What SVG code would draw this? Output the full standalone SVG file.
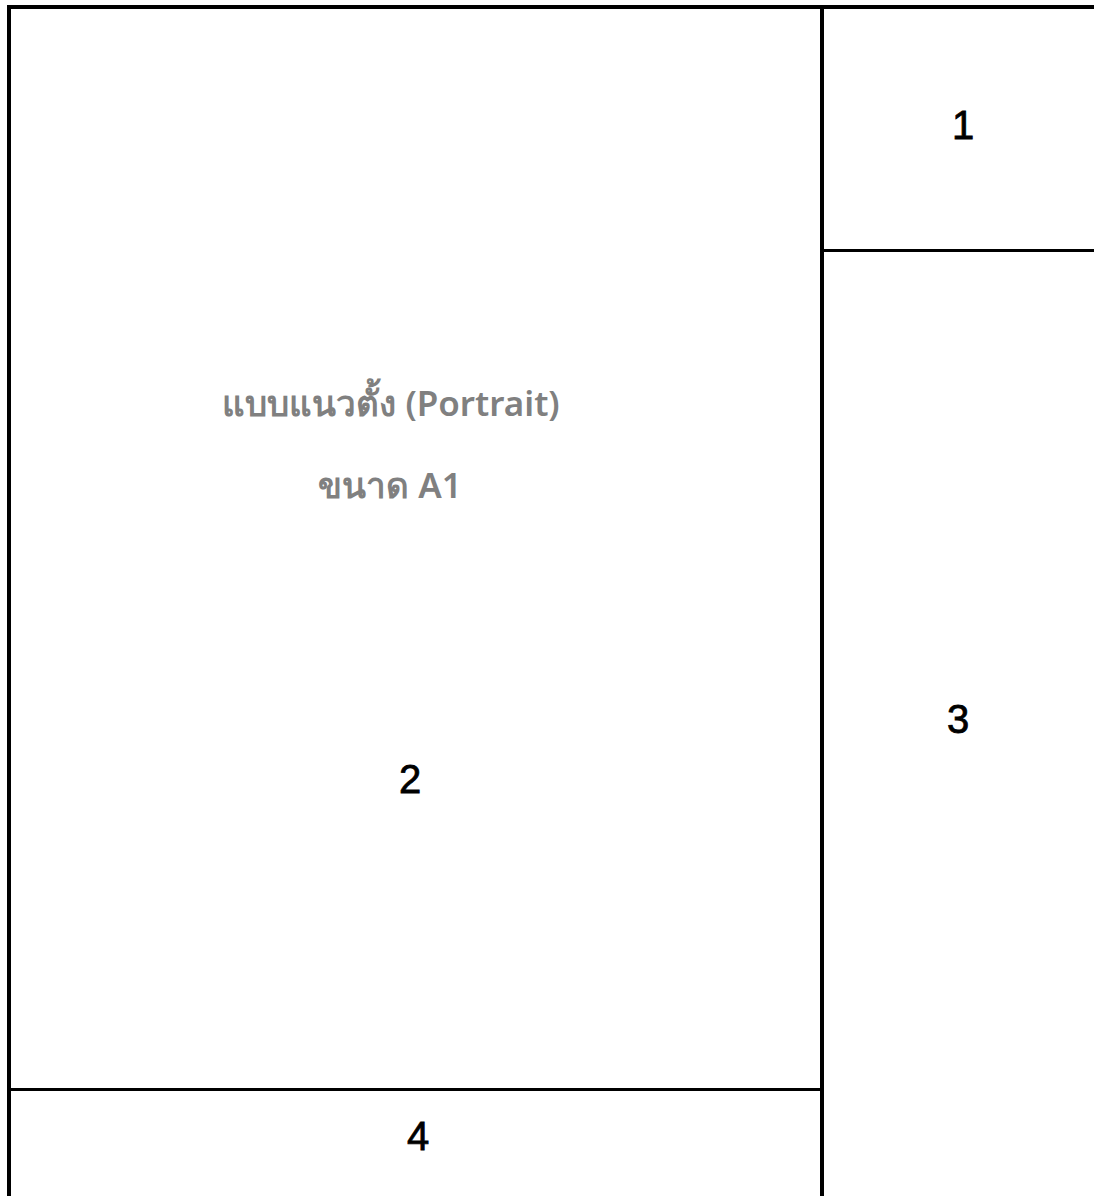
<svg xmlns="http://www.w3.org/2000/svg" width="1094" height="1196" viewBox="0 0 1094 1196">
<style>
.ln{stroke:#000;fill:none;stroke-linecap:square}
.num{font-family:"Liberation Sans",Arial,sans-serif;font-size:40px;fill:#000;stroke:#000;stroke-width:0.8;text-anchor:middle}
.th{font-family:"Noto Sans","DejaVu Sans",sans-serif;font-size:35px;font-weight:600;fill:#808080;text-anchor:middle}
</style>
<rect width="1094" height="1196" fill="#fff"/>
<g id="connectors">
<line class="ln" x1="9" y1="7" x2="1100" y2="7" stroke-width="4"/>
<line class="ln" x1="9" y1="7" x2="9" y2="1200" stroke-width="4"/>
<line class="ln" x1="822" y1="7" x2="822" y2="1200" stroke-width="4"/>
<line class="ln" x1="822" y1="250.5" x2="1100" y2="250.5" stroke-width="3"/>
<line class="ln" x1="9" y1="1089.5" x2="822" y2="1089.5" stroke-width="3"/>
</g>
<g id="node1"><text class="num" x="963" y="139">1</text></g>
<g id="node2"><text class="num" x="410" y="793">2</text>
<text class="th" x="391" y="416">แบบแนวตั้ง  (Portrait)</text>
<text class="th" x="390" y="498">ขนาด A1</text></g>
<g id="node3"><text class="num" x="958" y="733">3</text></g>
<g id="node4"><text class="num" x="418" y="1150">4</text></g>
</svg>
